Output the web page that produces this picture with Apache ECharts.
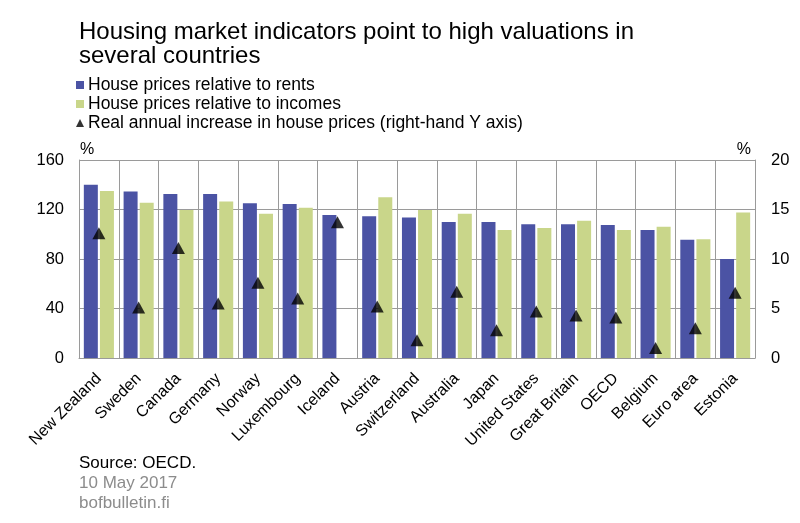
<!DOCTYPE html>
<html>
<head>
<meta charset="utf-8">
<script src="https://cdn.jsdelivr.net/npm/echarts@6/dist/echarts.min.js"></script>
<style>
html,body{margin:0;padding:0;background:#fff;}
#chart{width:800px;height:523px;}
</style>
</head>
<body>
<div id="chart"></div>
<script>
var categories = ["New Zealand","Sweden","Canada","Germany","Norway","Luxembourg","Iceland","Austria","Switzerland","Australia","Japan","United States","Great Britain","OECD","Belgium","Euro area","Estonia"];
var pricesToRents = [140,134.5,132.5,132.5,125,124.5,115.5,114.5,113.5,110,110,108,108,107.5,103.5,95.5,80];
var pricesToIncomes = [135,125.5,119.5,126.5,116.5,121.5,null,130,119.5,116.5,103.5,105,111,103.5,106,96,117.5];
var realIncrease = [12.6,5.1,11.1,5.5,7.6,6.0,13.7,5.2,1.8,6.7,2.8,4.7,4.3,4.1,1.0,3.0,6.6];
var leftTicks = [0,40,80,120,160];
var rightTicks = [0,5,10,15,20];

var FONT = '"Liberation Sans", Arial, sans-serif';
var chart = echarts.init(document.getElementById('chart'));
var gridColor = '#9a9a9a';
chart.setOption({
  animation: false,
  textStyle: {fontFamily: FONT},
  title: {
    text: 'Housing market indicators point to high valuations in\nseveral countries',
    left: 74, top: 15,
    textStyle: {fontFamily: FONT, fontSize: 24, fontWeight: 'normal', color: '#000', lineHeight: 24}
  },
  legend: {
    orient: 'vertical', left: 71, top: 71,
    itemWidth: 8, itemHeight: 8, itemGap: 1,
    textStyle: {fontFamily: FONT, fontSize: 17.5, color: '#000', padding: [0,0,0,-1]},
    data: [
      {name: 'House prices relative to rents', icon: 'rect'},
      {name: 'House prices relative to incomes', icon: 'rect'},
      {name: 'Real annual increase in house prices (right-hand Y axis)', icon: 'triangle'}
    ]
  },
  grid: {left: 79, right: 45, top: 160, bottom: 165},
  xAxis: {
    type: 'category', data: categories,
    axisTick: {show: false},
    axisLine: {lineStyle: {color: gridColor}},
    splitLine: {show: true, interval: 0, lineStyle: {color: gridColor, width: 1}},
    axisLabel: {rotate: 45, interval: 0, fontFamily: FONT, fontSize: 16, color: '#000', margin: 18}
  },
  yAxis: [
    {
      type: 'value', min: leftTicks[0], max: leftTicks[leftTicks.length-1], interval: 40,
      name: '%', nameLocation: 'end', nameGap: 2,
      nameTextStyle: {fontFamily: FONT, fontSize: 16, color: '#000', align: 'left', padding: [0,0,0,1]},
      axisLine: {show: true, lineStyle: {color: gridColor}},
      axisTick: {show: false},
      splitLine: {show: true, lineStyle: {color: gridColor}},
      axisLabel: {fontFamily: FONT, fontSize: 16.5, color: '#000', margin: 15}
    },
    {
      type: 'value', min: rightTicks[0], max: rightTicks[rightTicks.length-1], interval: 5,
      name: '%', nameLocation: 'end', nameGap: 2,
      nameTextStyle: {fontFamily: FONT, fontSize: 16, color: '#000', align: 'right', padding: [0,4,0,0]},
      axisLine: {show: true, lineStyle: {color: gridColor}},
      axisTick: {show: false},
      splitLine: {show: false},
      axisLabel: {fontFamily: FONT, fontSize: 16.5, color: '#000', margin: 16}
    }
  ],
  series: [
    {
      name: 'House prices relative to rents', type: 'bar', data: pricesToRents,
      barWidth: 14, barGap: '15%',
      itemStyle: {color: '#4b53a4'}
    },
    {
      name: 'House prices relative to incomes', type: 'bar', data: pricesToIncomes,
      barWidth: 14, barGap: '15%',
      itemStyle: {color: '#c9d68a'}
    },
    {
      name: 'Real annual increase in house prices (right-hand Y axis)', type: 'scatter',
      yAxisIndex: 1, data: realIncrease, symbol: 'triangle', symbolSize: [13, 12],
      itemStyle: {color: '#000'}, z: 5
    }
  ],
  graphic: [
    {type: 'text', left: 79, top: 455, style: {text: 'Source: OECD.', fontFamily: FONT, fontSize: 17, fill: '#000'}},
    {type: 'text', left: 79, top: 475, style: {text: '10 May 2017', fontFamily: FONT, fontSize: 17, fill: '#8c8c8c'}},
    {type: 'text', left: 79, top: 495, style: {text: 'bofbulletin.fi', fontFamily: FONT, fontSize: 17, fill: '#8c8c8c'}}
  ]
});
</script>
</body>
</html>
